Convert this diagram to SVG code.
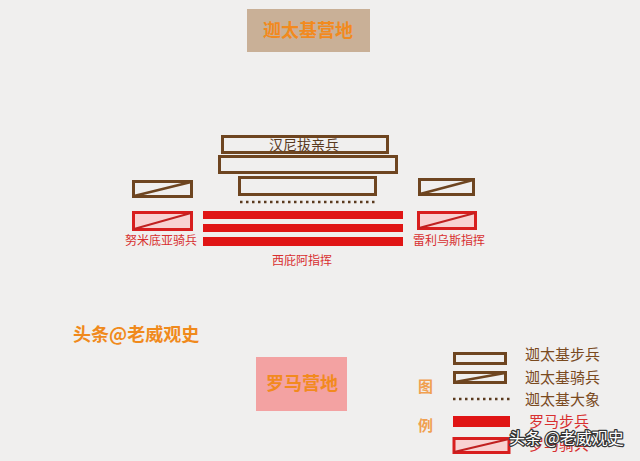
<svg xmlns="http://www.w3.org/2000/svg" width="640" height="461" viewBox="0 0 640 461">
<style>
.cn{font-family:"Noto Sans CJK SC","Liberation Sans",sans-serif}
.camp{font-size:18px;font-weight:bold;fill:#f28a1e;text-anchor:middle}
.inf{fill:none;stroke:#6e4520;stroke-width:3}
.cav{fill:none;stroke:#6e4520;stroke-width:3}
.rinf{fill:#e01515}
.rcav{fill:#f8d2d2;stroke:#d81e1e;stroke-width:3}
.dline{stroke:#5a3a1e;stroke-width:2.5;stroke-dasharray:2.5 3.5}
.lbl{font-size:12px;fill:#d83030;text-anchor:middle}
.leg{font-size:15px;fill:#7a4a1e}
.legr{font-size:15px;fill:#d83030}
.orn{font-size:15px;font-weight:bold;fill:#f0a050}
</style>
<rect width="640" height="461" fill="#f0efee"/>
<g id="carthage-camp">
<rect x="247" y="9" width="123" height="43" fill="#c9b097"/>
<text class="cn camp" x="308" y="37">迦太基营地</text>
</g>
<g id="hannibal-guard">
<rect class="inf" x="222.5" y="136.5" width="165" height="16"/>
<text class="cn" x="304" y="150" font-size="14" fill="#5a3a1e" text-anchor="middle">汉尼拔亲兵</text>
</g>
<g id="carthage-inf-2"><rect class="inf" x="219.5" y="156.5" width="177" height="16"/></g>
<g id="carthage-inf-3"><rect class="inf" x="239.5" y="177.5" width="136" height="17"/></g>
<g id="elephants"><line class="dline" x1="240" y1="202" x2="377" y2="202"/></g>
<g id="carthage-cav-left">
<rect class="cav" x="133.5" y="181.5" width="58" height="15"/>
<line x1="134" y1="196" x2="191" y2="182" stroke="#6e4520" stroke-width="2.5"/>
</g>
<g id="carthage-cav-right">
<rect class="cav" x="419.5" y="179.5" width="54" height="15"/>
<line x1="420" y1="194" x2="473" y2="180" stroke="#6e4520" stroke-width="2.5"/>
</g>
<g id="roman-inf">
<rect class="rinf" x="203" y="211" width="200" height="8"/>
<rect class="rinf" x="203" y="224" width="200" height="8"/>
<rect class="rinf" x="203" y="237" width="200" height="9"/>
<text class="cn lbl" x="302" y="265">西庇阿指挥</text>
</g>
<g id="numidian-cav">
<rect class="rcav" x="133.5" y="212.5" width="58" height="17"/>
<line x1="134" y1="229" x2="191" y2="213" stroke="#c02020" stroke-width="2"/>
<text class="cn lbl" x="161" y="245">努米底亚骑兵</text>
</g>
<g id="laelius-cav">
<rect class="rcav" x="418.5" y="212.5" width="57" height="16"/>
<line x1="419" y1="228" x2="475" y2="213" stroke="#c02020" stroke-width="2"/>
<text class="cn lbl" x="449" y="245">雷利乌斯指挥</text>
</g>
<g id="credit">
<text class="cn" x="73" y="341" font-size="18" font-weight="bold" fill="#f08a1c">头条@老威观史</text>
</g>
<g id="roman-camp">
<rect x="256" y="357" width="91" height="54" fill="#f3a2a2"/>
<text class="cn camp" x="302" y="390">罗马营地</text>
</g>
<g id="legend">
<text class="cn orn" x="418" y="392">图</text>
<text class="cn orn" x="418" y="431">例</text>
<rect class="inf" x="454.5" y="353.5" width="51" height="10"/>
<text class="cn leg" x="525" y="360">迦太基步兵</text>
<rect class="cav" x="454.5" y="372.5" width="51" height="10"/>
<line x1="455" y1="382" x2="505" y2="373" stroke="#6e4520" stroke-width="2.5"/>
<text class="cn leg" x="525" y="383">迦太基骑兵</text>
<line class="dline" x1="453" y1="399" x2="511" y2="399"/>
<text class="cn leg" x="525" y="405">迦太基大象</text>
<rect class="rinf" x="453" y="416" width="57" height="11"/>
<text class="cn legr" x="529" y="427">罗马步兵</text>
<rect class="rcav" x="454" y="438.5" width="55" height="14"/>
<line x1="454" y1="452" x2="509" y2="439" stroke="#c02020" stroke-width="2"/>
<text class="cn legr" x="529" y="450">罗马骑兵</text>
</g>
<g id="watermark">
<text class="cn" x="509" y="444" font-size="16" fill="#ffffff" stroke="#333333" stroke-width="2.5" paint-order="stroke" stroke-linejoin="round">头条 @老威观史</text>
</g>
</svg>
